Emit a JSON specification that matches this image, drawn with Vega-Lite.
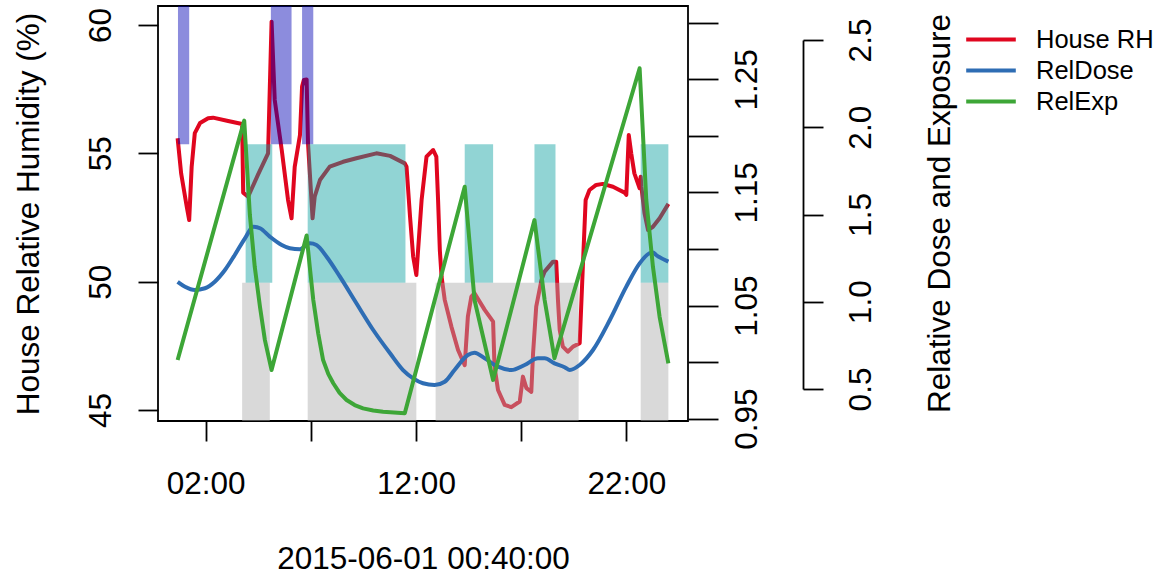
{
  "$schema": "https://vega.github.io/schema/vega-lite/v6.json",
  "width": 530,
  "height": 415,
  "autosize": {"type": "none"},
  "padding": {"left": 158, "top": 6, "right": 471, "bottom": 155},
  "background": "white",
  "config": {
    "view": {"stroke": "black", "strokeWidth": 1.8},
    "font": "Liberation Sans",
    "axis": {
      "grid": false,
      "labelFont": "Liberation Sans",
      "titleFont": "Liberation Sans",
      "labelFontSize": 31.5,
      "titleFontSize": 31.5,
      "labelColor": "black",
      "titleColor": "black",
      "tickColor": "black",
      "domainColor": "black",
      "tickWidth": 1.8,
      "domainWidth": 1.8,
      "titleFontWeight": "normal",
      "labelOverlap": false,
      "labelFlush": false
    },
    "legend": {
      "orient": "none",
      "legendX": 815.5,
      "legendY": 16,
      "padding": 0,
      "title": null,
      "symbolType": "M-1.6,0H1.6",
      "symbolSize": 961,
      "symbolStrokeWidth": 4,
      "labelFont": "Liberation Sans",
      "labelFontSize": 25.5,
      "labelColor": "black",
      "labelOffset": 27.5,
      "rowPadding": 0
    }
  },
  "datasets": {
    "series": [
      {"time": "2015-06-01T00:40", "series": "House RH", "value": 55.59},
      {"time": "2015-06-01T00:50", "series": "House RH", "value": 54.22},
      {"time": "2015-06-01T01:06", "series": "House RH", "value": 52.92},
      {"time": "2015-06-01T01:13", "series": "House RH", "value": 52.40},
      {"time": "2015-06-01T01:20", "series": "House RH", "value": 54.47},
      {"time": "2015-06-01T01:29", "series": "House RH", "value": 55.79},
      {"time": "2015-06-01T01:44", "series": "House RH", "value": 56.18},
      {"time": "2015-06-01T02:07", "series": "House RH", "value": 56.37},
      {"time": "2015-06-01T02:21", "series": "House RH", "value": 56.39},
      {"time": "2015-06-01T03:04", "series": "House RH", "value": 56.26},
      {"time": "2015-06-01T03:44", "series": "House RH", "value": 56.14},
      {"time": "2015-06-01T03:47", "series": "House RH", "value": 53.47},
      {"time": "2015-06-01T04:01", "series": "House RH", "value": 53.31},
      {"time": "2015-06-01T04:29", "series": "House RH", "value": 54.16},
      {"time": "2015-06-01T04:58", "series": "House RH", "value": 55.0},
      {"time": "2015-06-01T05:08", "series": "House RH", "value": 60.13},
      {"time": "2015-06-01T05:17", "series": "House RH", "value": 57.08},
      {"time": "2015-06-01T05:37", "series": "House RH", "value": 55.13},
      {"time": "2015-06-01T05:55", "series": "House RH", "value": 53.18},
      {"time": "2015-06-01T06:05", "series": "House RH", "value": 52.47},
      {"time": "2015-06-01T06:14", "series": "House RH", "value": 54.47},
      {"time": "2015-06-01T06:29", "series": "House RH", "value": 55.71},
      {"time": "2015-06-01T06:35", "series": "House RH", "value": 57.6},
      {"time": "2015-06-01T06:40", "series": "House RH", "value": 57.86},
      {"time": "2015-06-01T06:48", "series": "House RH", "value": 57.88},
      {"time": "2015-06-01T06:52", "series": "House RH", "value": 55.39},
      {"time": "2015-06-01T07:05", "series": "House RH", "value": 52.47},
      {"time": "2015-06-01T07:11", "series": "House RH", "value": 53.31},
      {"time": "2015-06-01T07:26", "series": "House RH", "value": 53.96},
      {"time": "2015-06-01T07:54", "series": "House RH", "value": 54.48},
      {"time": "2015-06-01T08:32", "series": "House RH", "value": 54.67},
      {"time": "2015-06-01T09:10", "series": "House RH", "value": 54.81},
      {"time": "2015-06-01T10:07", "series": "House RH", "value": 55.0},
      {"time": "2015-06-01T10:46", "series": "House RH", "value": 54.9},
      {"time": "2015-06-01T11:28", "series": "House RH", "value": 54.61},
      {"time": "2015-06-01T11:33", "series": "House RH", "value": 54.48},
      {"time": "2015-06-01T11:43", "series": "House RH", "value": 52.53},
      {"time": "2015-06-01T11:52", "series": "House RH", "value": 50.97},
      {"time": "2015-06-01T12:01", "series": "House RH", "value": 50.26},
      {"time": "2015-06-01T12:16", "series": "House RH", "value": 53.18},
      {"time": "2015-06-01T12:30", "series": "House RH", "value": 54.87},
      {"time": "2015-06-01T12:49", "series": "House RH", "value": 55.13},
      {"time": "2015-06-01T12:58", "series": "House RH", "value": 54.87},
      {"time": "2015-06-01T13:03", "series": "House RH", "value": 53.18},
      {"time": "2015-06-01T13:08", "series": "House RH", "value": 51.23},
      {"time": "2015-06-01T13:13", "series": "House RH", "value": 50.19},
      {"time": "2015-06-01T13:22", "series": "House RH", "value": 49.29},
      {"time": "2015-06-01T13:41", "series": "House RH", "value": 48.25},
      {"time": "2015-06-01T14:00", "series": "House RH", "value": 47.34},
      {"time": "2015-06-01T14:19", "series": "House RH", "value": 46.75},
      {"time": "2015-06-01T14:28", "series": "House RH", "value": 48.64},
      {"time": "2015-06-01T14:38", "series": "House RH", "value": 49.42},
      {"time": "2015-06-01T14:47", "series": "House RH", "value": 49.55},
      {"time": "2015-06-01T15:16", "series": "House RH", "value": 48.9},
      {"time": "2015-06-01T15:40", "series": "House RH", "value": 48.44},
      {"time": "2015-06-01T15:44", "series": "House RH", "value": 46.69},
      {"time": "2015-06-01T15:54", "series": "House RH", "value": 45.78},
      {"time": "2015-06-01T16:13", "series": "House RH", "value": 45.2},
      {"time": "2015-06-01T16:32", "series": "House RH", "value": 45.11},
      {"time": "2015-06-01T16:56", "series": "House RH", "value": 45.33},
      {"time": "2015-06-01T17:05", "series": "House RH", "value": 46.3},
      {"time": "2015-06-01T17:15", "series": "House RH", "value": 45.85},
      {"time": "2015-06-01T17:29", "series": "House RH", "value": 45.71},
      {"time": "2015-06-01T17:34", "series": "House RH", "value": 47.21},
      {"time": "2015-06-01T17:43", "series": "House RH", "value": 49.03},
      {"time": "2015-06-01T17:58", "series": "House RH", "value": 50.07},
      {"time": "2015-06-01T18:07", "series": "House RH", "value": 50.39},
      {"time": "2015-06-01T18:31", "series": "House RH", "value": 50.78},
      {"time": "2015-06-01T18:40", "series": "House RH", "value": 50.78},
      {"time": "2015-06-01T18:45", "series": "House RH", "value": 49.29},
      {"time": "2015-06-01T18:50", "series": "House RH", "value": 48.12},
      {"time": "2015-06-01T18:59", "series": "House RH", "value": 47.47},
      {"time": "2015-06-01T19:13", "series": "House RH", "value": 47.27},
      {"time": "2015-06-01T19:28", "series": "House RH", "value": 47.47},
      {"time": "2015-06-01T19:47", "series": "House RH", "value": 47.6},
      {"time": "2015-06-01T19:56", "series": "House RH", "value": 50.58},
      {"time": "2015-06-01T20:04", "series": "House RH", "value": 53.18},
      {"time": "2015-06-01T20:15", "series": "House RH", "value": 53.57},
      {"time": "2015-06-01T20:34", "series": "House RH", "value": 53.77},
      {"time": "2015-06-01T20:53", "series": "House RH", "value": 53.81},
      {"time": "2015-06-01T21:22", "series": "House RH", "value": 53.7},
      {"time": "2015-06-01T21:55", "series": "House RH", "value": 53.47},
      {"time": "2015-06-01T22:00", "series": "House RH", "value": 53.38},
      {"time": "2015-06-01T22:07", "series": "House RH", "value": 55.71},
      {"time": "2015-06-01T22:14", "series": "House RH", "value": 55.0},
      {"time": "2015-06-01T22:23", "series": "House RH", "value": 54.22},
      {"time": "2015-06-01T22:38", "series": "House RH", "value": 53.64},
      {"time": "2015-06-01T22:41", "series": "House RH", "value": 54.09},
      {"time": "2015-06-01T22:43", "series": "House RH", "value": 53.7},
      {"time": "2015-06-01T22:52", "series": "House RH", "value": 52.66},
      {"time": "2015-06-01T23:02", "series": "House RH", "value": 52.01},
      {"time": "2015-06-01T23:16", "series": "House RH", "value": 52.14},
      {"time": "2015-06-01T23:35", "series": "House RH", "value": 52.47},
      {"time": "2015-06-02T00:00", "series": "House RH", "value": 53.03},

      {"time": "2015-06-01T00:40", "series": "RelDose", "value": 1.071},
      {"time": "2015-06-01T01:01", "series": "RelDose", "value": 1.0667},
      {"time": "2015-06-01T01:29", "series": "RelDose", "value": 1.0638},
      {"time": "2015-06-01T01:58", "series": "RelDose", "value": 1.0653},
      {"time": "2015-06-01T02:26", "series": "RelDose", "value": 1.0711},
      {"time": "2015-06-01T02:55", "series": "RelDose", "value": 1.0814},
      {"time": "2015-06-01T03:23", "series": "RelDose", "value": 1.0947},
      {"time": "2015-06-01T03:52", "series": "RelDose", "value": 1.1094},
      {"time": "2015-06-01T04:16", "series": "RelDose", "value": 1.1197},
      {"time": "2015-06-01T04:35", "series": "RelDose", "value": 1.1183},
      {"time": "2015-06-01T05:03", "series": "RelDose", "value": 1.1109},
      {"time": "2015-06-01T05:37", "series": "RelDose", "value": 1.1035},
      {"time": "2015-06-01T06:00", "series": "RelDose", "value": 1.1006},
      {"time": "2015-06-01T06:29", "series": "RelDose", "value": 1.0997},
      {"time": "2015-06-01T06:57", "series": "RelDose", "value": 1.105},
      {"time": "2015-06-01T07:16", "series": "RelDose", "value": 1.1035},
      {"time": "2015-06-01T07:45", "series": "RelDose", "value": 1.0932},
      {"time": "2015-06-01T08:23", "series": "RelDose", "value": 1.0755},
      {"time": "2015-06-01T09:10", "series": "RelDose", "value": 1.052},
      {"time": "2015-06-01T09:58", "series": "RelDose", "value": 1.0284},
      {"time": "2015-06-01T10:46", "series": "RelDose", "value": 1.0078},
      {"time": "2015-06-01T11:23", "series": "RelDose", "value": 0.993},
      {"time": "2015-06-01T11:52", "series": "RelDose", "value": 0.9857},
      {"time": "2015-06-01T12:20", "series": "RelDose", "value": 0.9813},
      {"time": "2015-06-01T12:53", "series": "RelDose", "value": 0.9798},
      {"time": "2015-06-01T13:22", "series": "RelDose", "value": 0.9827},
      {"time": "2015-06-01T13:50", "series": "RelDose", "value": 0.993},
      {"time": "2015-06-01T14:28", "series": "RelDose", "value": 1.0063},
      {"time": "2015-06-01T14:47", "series": "RelDose", "value": 1.0083},
      {"time": "2015-06-01T15:16", "series": "RelDose", "value": 1.0034},
      {"time": "2015-06-01T15:54", "series": "RelDose", "value": 0.996},
      {"time": "2015-06-01T16:32", "series": "RelDose", "value": 0.993},
      {"time": "2015-06-01T17:10", "series": "RelDose", "value": 0.9975},
      {"time": "2015-06-01T17:48", "series": "RelDose", "value": 1.0034},
      {"time": "2015-06-01T18:07", "series": "RelDose", "value": 1.0034},
      {"time": "2015-06-01T18:35", "series": "RelDose", "value": 0.9989},
      {"time": "2015-06-01T19:04", "series": "RelDose", "value": 0.9955},
      {"time": "2015-06-01T19:19", "series": "RelDose", "value": 0.993},
      {"time": "2015-06-01T19:47", "series": "RelDose", "value": 0.9975},
      {"time": "2015-06-01T20:25", "series": "RelDose", "value": 1.0107},
      {"time": "2015-06-01T21:13", "series": "RelDose", "value": 1.0372},
      {"time": "2015-06-01T22:00", "series": "RelDose", "value": 1.0667},
      {"time": "2015-06-01T22:38", "series": "RelDose", "value": 1.0873},
      {"time": "2015-06-01T23:06", "series": "RelDose", "value": 1.0962},
      {"time": "2015-06-01T23:16", "series": "RelDose", "value": 1.097},
      {"time": "2015-06-01T23:25", "series": "RelDose", "value": 1.0947},
      {"time": "2015-06-02T00:00", "series": "RelDose", "value": 1.0888},

      {"time": "2015-06-01T00:40", "series": "RelExp", "value": 0.666},
      {"time": "2015-06-01T03:50", "series": "RelExp", "value": 2.038},
      {"time": "2015-06-01T04:06", "series": "RelExp", "value": 1.50},
      {"time": "2015-06-01T04:20", "series": "RelExp", "value": 1.20},
      {"time": "2015-06-01T04:35", "series": "RelExp", "value": 0.97},
      {"time": "2015-06-01T04:49", "series": "RelExp", "value": 0.78},
      {"time": "2015-06-01T05:08", "series": "RelExp", "value": 0.609},
      {"time": "2015-06-01T06:48", "series": "RelExp", "value": 1.38},
      {"time": "2015-06-01T06:57", "series": "RelExp", "value": 1.20},
      {"time": "2015-06-01T07:07", "series": "RelExp", "value": 1.01},
      {"time": "2015-06-01T07:21", "series": "RelExp", "value": 0.819},
      {"time": "2015-06-01T07:35", "series": "RelExp", "value": 0.666},
      {"time": "2015-06-01T07:50", "series": "RelExp", "value": 0.585},
      {"time": "2015-06-01T08:04", "series": "RelExp", "value": 0.533},
      {"time": "2015-06-01T08:22", "series": "RelExp", "value": 0.478},
      {"time": "2015-06-01T08:42", "series": "RelExp", "value": 0.437},
      {"time": "2015-06-01T09:05", "series": "RelExp", "value": 0.408},
      {"time": "2015-06-01T09:29", "series": "RelExp", "value": 0.389},
      {"time": "2015-06-01T09:58", "series": "RelExp", "value": 0.377},
      {"time": "2015-06-01T10:26", "series": "RelExp", "value": 0.370},
      {"time": "2015-06-01T11:28", "series": "RelExp", "value": 0.361},
      {"time": "2015-06-01T14:19", "series": "RelExp", "value": 1.659},
      {"time": "2015-06-01T14:47", "series": "RelExp", "value": 1.01},
      {"time": "2015-06-01T15:40", "series": "RelExp", "value": 0.552},
      {"time": "2015-06-01T17:38", "series": "RelExp", "value": 1.468},
      {"time": "2015-06-01T18:07", "series": "RelExp", "value": 1.01},
      {"time": "2015-06-01T18:35", "series": "RelExp", "value": 0.676},
      {"time": "2015-06-01T22:38", "series": "RelExp", "value": 2.338},
      {"time": "2015-06-01T22:57", "series": "RelExp", "value": 1.583},
      {"time": "2015-06-01T23:16", "series": "RelExp", "value": 1.20},
      {"time": "2015-06-01T23:35", "series": "RelExp", "value": 0.914},
      {"time": "2015-06-02T00:00", "series": "RelExp", "value": 0.647}
    ],
    "bands": [
      {"start": "2015-06-01T00:41", "end": "2015-06-01T01:13", "band": "upper"},
      {"start": "2015-06-01T05:06", "end": "2015-06-01T06:05", "band": "upper"},
      {"start": "2015-06-01T06:35", "end": "2015-06-01T07:07", "band": "upper"},
      {"start": "2015-06-01T03:54", "end": "2015-06-01T05:10", "band": "middle"},
      {"start": "2015-06-01T06:51", "end": "2015-06-01T11:30", "band": "middle"},
      {"start": "2015-06-01T14:19", "end": "2015-06-01T15:40", "band": "middle"},
      {"start": "2015-06-01T17:38", "end": "2015-06-01T18:38", "band": "middle"},
      {"start": "2015-06-01T22:41", "end": "2015-06-02T00:00", "band": "middle"},
      {"start": "2015-06-01T03:44", "end": "2015-06-01T05:03", "band": "lower"},
      {"start": "2015-06-01T06:51", "end": "2015-06-01T12:01", "band": "lower"},
      {"start": "2015-06-01T12:56", "end": "2015-06-01T19:44", "band": "lower"},
      {"start": "2015-06-01T22:41", "end": "2015-06-02T00:00", "band": "lower"}
    ]
  },
  "layer": [
    {
      "data": {"name": "series"},
      "transform": [{"filter": "datum.series === 'House RH'"}],
      "mark": {"type": "line", "strokeWidth": 4, "strokeJoin": "round"},
      "encoding": {
        "x": {
          "field": "time",
          "type": "temporal",
          "scale": {
            "domain": [
              {"year": 2015, "month": 5, "date": 31, "hours": 23, "minutes": 44},
              {"year": 2015, "month": 6, "date": 2, "hours": 0, "minutes": 56}
            ]
          },
          "axis": {
            "title": "2015-06-01 00:40:00",
            "values": [
              {"year": 2015, "month": 6, "date": 1, "hours": 2},
              {"year": 2015, "month": 6, "date": 1, "hours": 7},
              {"year": 2015, "month": 6, "date": 1, "hours": 12},
              {"year": 2015, "month": 6, "date": 1, "hours": 17},
              {"year": 2015, "month": 6, "date": 1, "hours": 22}
            ],
            "labelExpr": "(timeFormat(datum.value, '%H') == '07' || timeFormat(datum.value, '%H') == '17') ? '' : timeFormat(datum.value, '%H:%M')",
            "tickSize": 20,
            "labelPadding": 52,
            "labelBaseline": "alphabetic",
            "labelAngle": 0,
            "domain": false,
            "titleY": 147,
            "titleBaseline": "alphabetic"
          }
        },
        "y": {
          "field": "value",
          "type": "quantitative",
          "scale": {"domain": [45, 60], "range": [404, 19], "zero": false, "nice": false},
          "axis": {
            "orient": "left",
            "values": [45, 50, 55, 60],
            "tickSize": 20,
            "labelAngle": 270,
            "labelAlign": "center",
            "labelBaseline": "alphabetic",
            "labelPadding": 28,
            "domain": false,
            "title": "House Relative Humidity (%)",
            "titleAngle": 270,
            "titleAlign": "center",
            "titleBaseline": "alphabetic",
            "titleX": -120,
            "titleY": 207.5
          }
        },
        "color": {
          "field": "series",
          "type": "nominal",
          "scale": {"domain": ["House RH", "RelDose", "RelExp"], "range": ["#E0061F", "#2E6DB4", "#3DA637"]}
        }
      }
    },
    {
      "data": {"name": "bands"},
      "mark": {"type": "rect", "opacity": 0.45},
      "encoding": {
        "x": {"field": "start", "type": "temporal"},
        "x2": {"field": "end"},
        "y": {
          "field": "band",
          "type": "nominal",
          "scale": {"domain": ["upper", "middle", "lower"], "range": [0, 415], "paddingInner": 0, "paddingOuter": 0},
          "axis": null
        },
        "fill": {
          "field": "band",
          "type": "nominal",
          "scale": {"domain": ["upper", "middle", "lower"], "range": ["#0000B4", "#0B9F9F", "#ABABAB"]},
          "legend": null
        }
      }
    },
    {
      "data": {"name": "series"},
      "transform": [{"filter": "datum.series === 'RelDose'"}],
      "mark": {"type": "line", "strokeWidth": 4, "interpolate": "monotone"},
      "encoding": {
        "x": {"field": "time", "type": "temporal"},
        "y": {
          "field": "value",
          "type": "quantitative",
          "scale": {"domain": [0.95, 1.30], "range": [412.7, 16.7], "zero": false, "nice": false},
          "axis": {
            "orient": "right",
            "values": [0.95, 1.0, 1.05, 1.1, 1.15, 1.2, 1.25, 1.3],
            "labelExpr": "indexof(['0.95', '1.05', '1.15', '1.25'], format(datum.value, '.2f')) >= 0 ? format(datum.value, '.2f') : ''",
            "tickSize": 30,
            "labelAngle": 270,
            "labelAlign": "center",
            "labelBaseline": "alphabetic",
            "labelPadding": 38,
            "domain": false,
            "title": null
          }
        },
        "color": {"field": "series", "type": "nominal"}
      }
    },
    {
      "data": {"name": "series"},
      "transform": [{"filter": "datum.series === 'RelExp'"}],
      "mark": {"type": "line", "strokeWidth": 4, "strokeJoin": "round"},
      "encoding": {
        "x": {"field": "time", "type": "temporal"},
        "y": {
          "field": "value",
          "type": "quantitative",
          "scale": {"domain": [0.5, 2.5], "range": [383, 34], "zero": false, "nice": false},
          "axis": {
            "orient": "right",
            "offset": 115,
            "values": [0.5, 1.0, 1.5, 2.0, 2.5],
            "format": ".1f",
            "tickSize": 20,
            "labelAngle": 270,
            "labelAlign": "center",
            "labelBaseline": "alphabetic",
            "labelPadding": 47,
            "domain": true,
            "title": "Relative Dose and Exposure",
            "titleAngle": 270,
            "titleAlign": "center",
            "titleBaseline": "alphabetic",
            "titleX": 146,
            "titleY": 207
          }
        },
        "color": {"field": "series", "type": "nominal"}
      }
    },
    {
      "mark": {"type": "rule", "color": "#E8364A", "strokeDash": [5, 4], "strokeWidth": 1.8},
      "encoding": {
        "y": {"datum": 52.4, "type": "quantitative", "scale": {"domain": [45, 60], "range": [404, 19], "zero": false, "nice": false}, "axis": null}
      }
    },
    {
      "mark": {"type": "rule", "color": "#3A6E3A", "strokeDash": [5, 4], "strokeWidth": 1.8},
      "encoding": {
        "y": {"datum": 1.0, "type": "quantitative", "scale": {"domain": [0.95, 1.30], "range": [412.7, 16.7], "zero": false, "nice": false}, "axis": null}
      }
    }
  ],
  "resolve": {"scale": {"y": "independent"}}
}
